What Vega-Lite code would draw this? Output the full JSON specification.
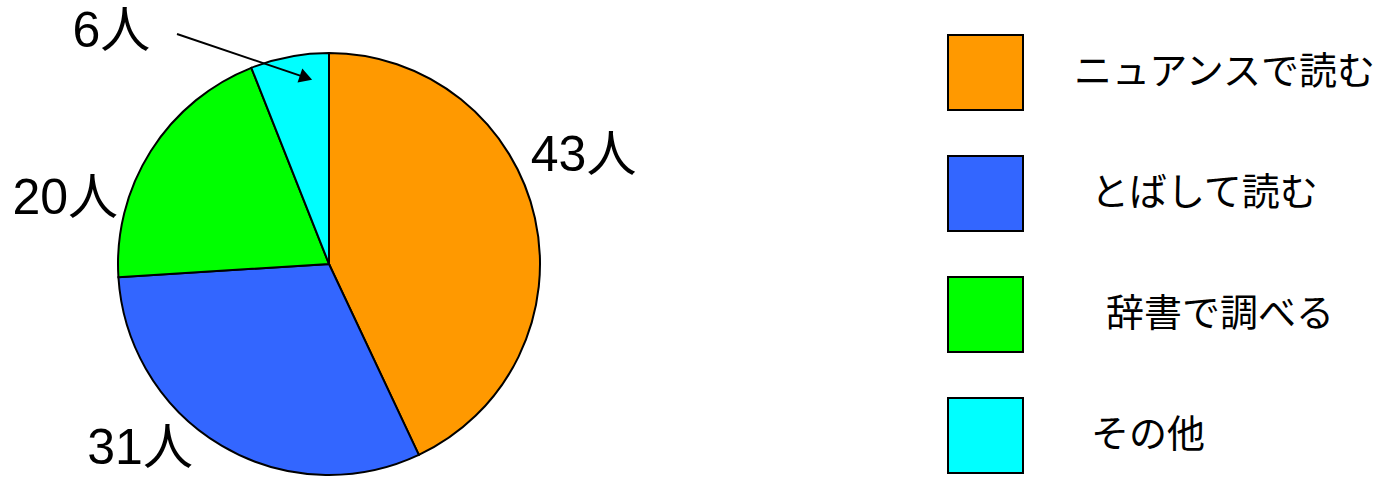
{
  "$schema": "https://vega.github.io/schema/vega-lite/v6.json",
  "width": 1385,
  "height": 478,
  "autosize": "none",
  "padding": 0,
  "background": "white",
  "config": {"view": {"stroke": null}},
  "data": {
    "values": [
      {"category": "ニュアンスで読む", "count": 43, "rank": 1, "label": "43人"},
      {"category": "とばして読む", "count": 31, "rank": 2, "label": "31人"},
      {"category": "辞書で調べる", "count": 20, "rank": 3, "label": "20人"},
      {"category": "その他", "count": 6, "rank": 4, "label": "6人"}
    ]
  },
  "layer": [
    {
      "mark": {"type": "arc", "outerRadius": 211, "stroke": "black", "strokeWidth": 2},
      "encoding": {
        "x": {"datum": 329, "type": "quantitative", "scale": {"domain": [0, 1385], "nice": false, "zero": false}, "axis": null},
        "y": {"datum": 264, "type": "quantitative", "scale": {"domain": [0, 478], "nice": false, "zero": false, "reverse": true}, "axis": null},
        "theta": {"field": "count", "type": "quantitative", "stack": true},
        "order": {"field": "rank", "type": "quantitative"},
        "color": {
          "field": "category",
          "type": "nominal",
          "sort": ["ニュアンスで読む", "とばして読む", "辞書で調べる", "その他"],
          "scale": {
            "domain": ["ニュアンスで読む", "とばして読む", "辞書で調べる", "その他"],
            "range": ["#FF9900", "#3366FF", "#00FF00", "#00FFFF"]
          },
          "legend": {
            "orient": "none",
            "legendX": 947,
            "legendY": 34,
            "title": null,
            "symbolType": "square",
            "symbolSize": 5625,
            "symbolStrokeColor": "black",
            "symbolStrokeWidth": 2,
            "symbolOpacity": 1,
            "rowPadding": 38,
            "labelOffset": 50,
            "labelFont": "Noto Sans CJK JP",
            "labelFontSize": 38,
            "labelColor": "black",
            "labelLimit": 0,
            "encode": {
              "labels": {
                "update": {
                  "dx": {"signal": "datum.value == '辞書で調べる' ? 32 : (datum.value == 'ニュアンスで読む' ? 0 : 17)"}
                }
              }
            }
          }
        }
      }
    },
    {
      "mark": {
        "type": "text",
        "radius": 265,
        "font": "Liberation Sans, Noto Sans CJK JP",
        "fontSize": 50,
        "align": "center",
        "baseline": "middle",
        "color": "black",
        "dx": {"expr": "datum.rank == 1 ? -4 : datum.rank == 2 ? -54 : datum.rank == 3 ? -40 : -168"},
        "dy": {"expr": "datum.rank == 1 ? -50 : datum.rank == 2 ? -43 : datum.rank == 3 ? 77 : 28"}
      },
      "encoding": {
        "x": {"datum": 329, "type": "quantitative", "scale": {"domain": [0, 1385], "nice": false, "zero": false}, "axis": null},
        "y": {"datum": 264, "type": "quantitative", "scale": {"domain": [0, 478], "nice": false, "zero": false, "reverse": true}, "axis": null},
        "theta": {"field": "count", "type": "quantitative", "stack": true},
        "order": {"field": "rank", "type": "quantitative"},
        "detail": {"field": "category", "type": "nominal"},
        "text": {"field": "label", "type": "nominal"}
      }
    },
    {
      "transform": [{"filter": "datum.rank == 4"}],
      "mark": {"type": "rule", "color": "black", "strokeWidth": 2},
      "encoding": {
        "x": {"datum": 177, "type": "quantitative", "scale": {"domain": [0, 1385], "nice": false, "zero": false}, "axis": null},
        "y": {"datum": 34, "type": "quantitative", "scale": {"domain": [0, 478], "nice": false, "zero": false, "reverse": true}, "axis": null},
        "x2": {"datum": 306},
        "y2": {"datum": 77.6}
      }
    },
    {
      "transform": [{"filter": "datum.rank == 4"}],
      "mark": {"type": "point", "shape": "triangle-right", "filled": true, "color": "black", "opacity": 1, "size": 220, "angle": 18.7},
      "encoding": {
        "x": {"datum": 306, "type": "quantitative", "scale": {"domain": [0, 1385], "nice": false, "zero": false}, "axis": null},
        "y": {"datum": 77.6, "type": "quantitative", "scale": {"domain": [0, 478], "nice": false, "zero": false, "reverse": true}, "axis": null}
      }
    }
  ]
}
